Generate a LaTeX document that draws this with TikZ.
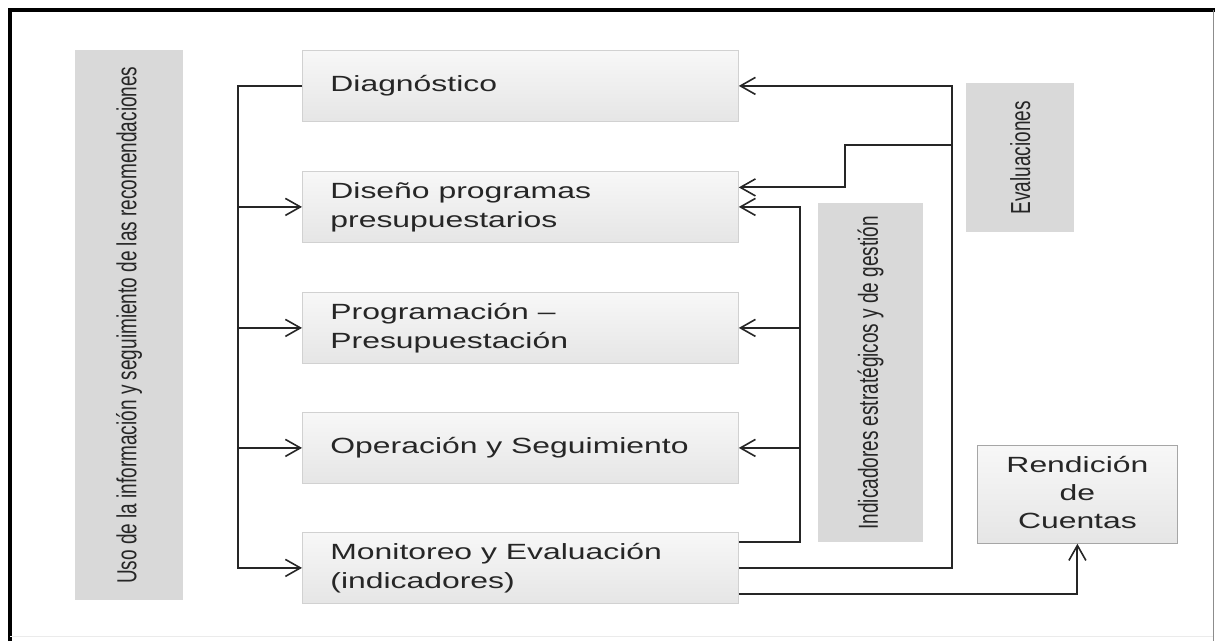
\documentclass[tikz,border=0pt]{standalone}
\usepackage{fontspec}
\setmainfont{Liberation Sans}
\usetikzlibrary{arrows.meta}
\newcommand\stretchx[1]{\scalebox{1.45}[1]{#1}}
\newcommand\boxtxt[1]{\makebox[380pt][l]{\stretchx{\fontsize{22}{29}\selectfont\begin{tabular}{@{}l@{}}#1\end{tabular}}}}
\newcommand\vtxt[1]{\stretchx{\rotatebox{90}{\fontsize{19}{22}\selectfont #1}}}
\begin{document}
\begin{tikzpicture}[x=1pt,y=-1pt,
  stage/.style={draw=black!18, line width=0.8pt, top color=black!3, bottom color=black!10, minimum width=436pt, minimum height=71pt, inner sep=0pt, anchor=north west, text=black!85},
  band/.style={fill=black!15, inner sep=0pt, anchor=north west, text=black!85},
  rendbox/.style={draw=black!35, line width=0.8pt, top color=black!3, bottom color=black!10, minimum width=200pt, minimum height=98pt, inner sep=0pt, anchor=north west, text=black!85},
  link/.style={line width=2pt, draw=black!85},
  arr/.style={link, -{Straight Barb[length=15pt,width=17pt,line width=1.6pt]}}]
\useasboundingbox (0,0) rectangle (1215,641);
% frame
\draw[line width=4pt] (10,641) -- (10,10) -- (1215,10);
\draw[black!45, line width=1pt] (1213,10) -- (1213,641);
\draw[black!8, line width=1pt] (10,636) -- (1213,636);
% bands
\node[band, minimum width=108pt, minimum height=550pt] (uso) at (75,50) {\vtxt{Uso de la información y seguimiento de las recomendaciones}};
\node[band, minimum width=105pt, minimum height=339pt] (ind) at (818,203) {\vtxt{Indicadores estratégicos y de gestión}};
\node[band, minimum width=108pt, minimum height=149pt] (eva) at (966,83) {\vtxt{Evaluaciones}};
% stages
\node[stage] (diag) at (302,50) {\boxtxt{Diagnóstico}};
\node[stage] (dis) at (302,171) {\boxtxt{Diseño programas\\presupuestarios}};
\node[stage] (prog) at (302,292) {\boxtxt{Programación –\\Presupuestación}};
\node[stage] (oper) at (302,412) {\boxtxt{Operación y Seguimiento}};
\node[stage] (mon) at (302,532) {\boxtxt{Monitoreo y Evaluación\\(indicadores)}};
\node[rendbox] (rend) at (977,445) {\stretchx{\fontsize{22}{28}\selectfont\begin{tabular}{@{}c@{}}Rendición\\de\\Cuentas\end{tabular}}};
% helper coordinates
\coordinate (busL) at (238,0);
\coordinate (evx) at (952,0);
\coordinate (evx2) at (845,0);
\coordinate (evy) at (0,145);
\coordinate (inx) at (800,0);
% left bus
\draw[arr] (diag.west) -- (diag.west -| busL) |- (mon.west);
\foreach \n in {dis,prog,oper} \draw[arr] (\n.west -| busL) -- (\n.west);
% evaluaciones loop
\draw[arr] (mon.east) -- (mon.east -| evx) |- (diag.east);
\draw[arr] (evx |- evy) -- (evx2 |- evy) |- ([yshift=19.5pt]dis.east);
% indicadores loop
\draw[arr] ([yshift=25.5pt]mon.east) -| (inx |- dis.east) -- (dis.east);
\foreach \n in {prog,oper} \draw[arr] (\n.east -| inx) -- (\n.east);
% rendicion
\draw[arr] ([yshift=-26.5pt]mon.east) -| (rend.south);
\end{tikzpicture}
\end{document}
